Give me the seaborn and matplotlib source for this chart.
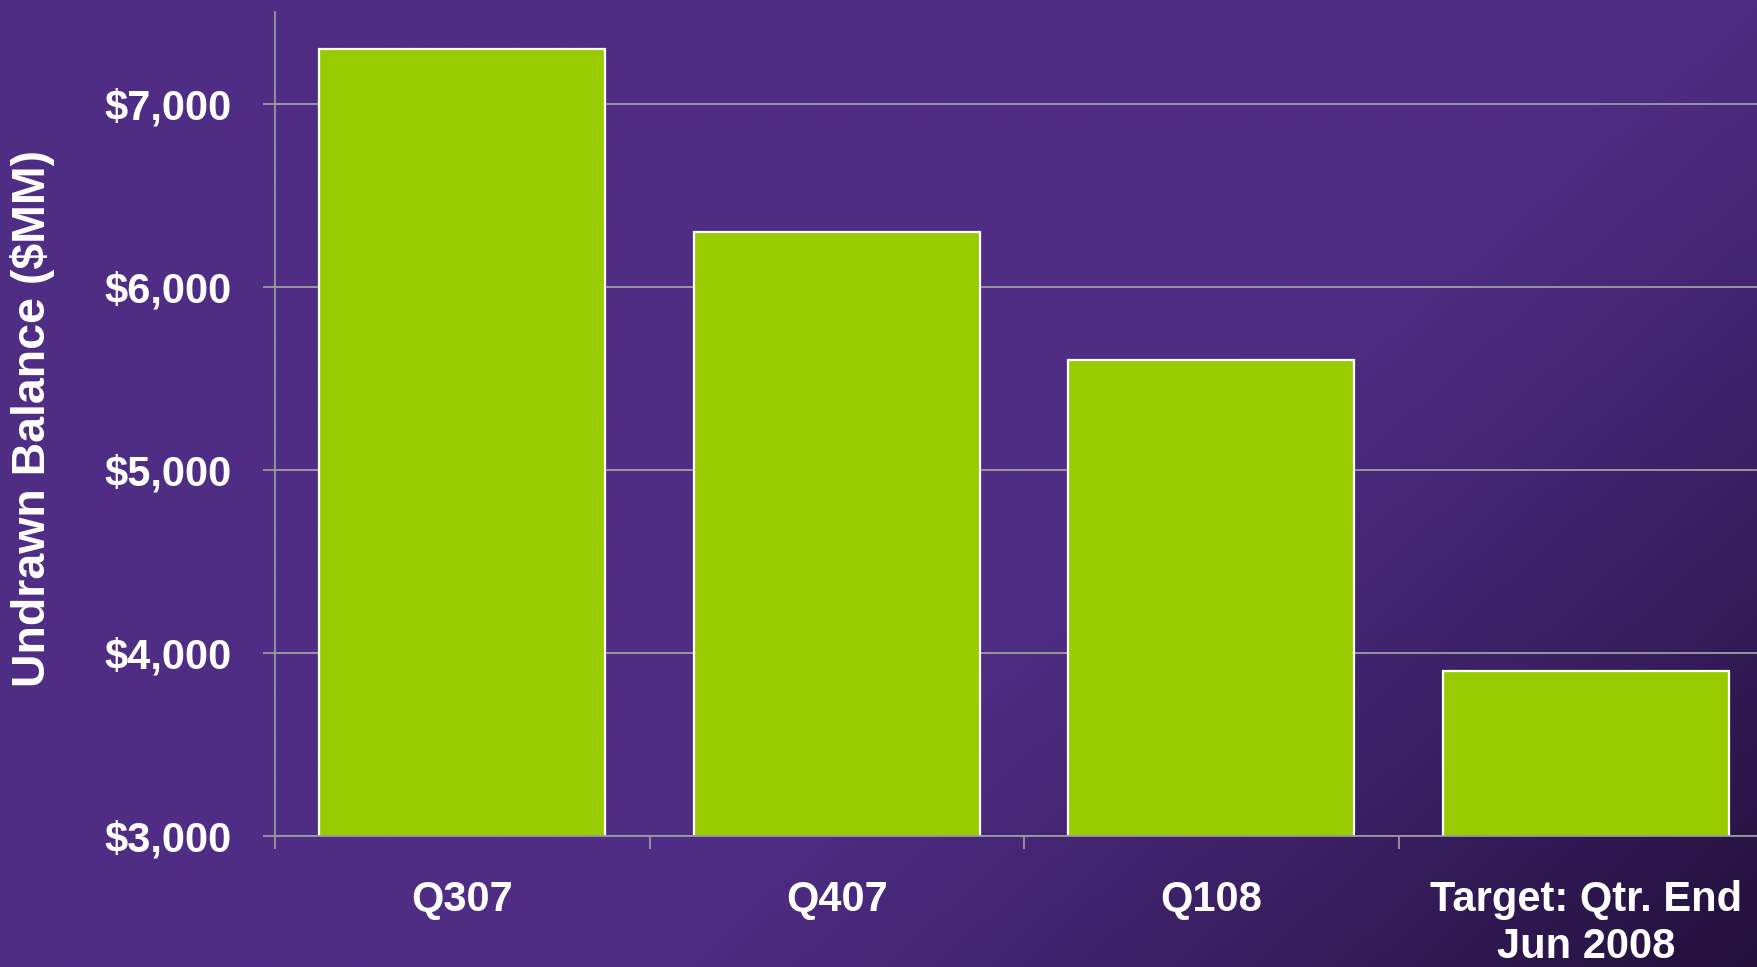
import numpy as np
import matplotlib
matplotlib.use("Agg")
import matplotlib.pyplot as plt
import seaborn as sns
from matplotlib.colors import to_rgb

categories = ["Q307", "Q407", "Q108", "Target: Qtr. End\nJun 2008"]
values = [7300, 6300, 5600, 3900]
ytick_vals = [3000, 4000, 5000, 6000, 7000]
ytick_labels = ["$3,000", "$4,000", "$5,000", "$6,000", "$7,000"]

sns.set_style("white")
plt.rcParams['font.family'] = ['Liberation Sans', 'DejaVu Sans']
plt.rcParams['font.weight'] = 'bold'

W, H = 1758, 967
fig = plt.figure(figsize=(W / 100, H / 100), dpi=100)

# background gradient
bg = fig.add_axes([0, 0, 1, 1], zorder=-10)
xs = np.linspace(0, 1, 400)
ys = np.linspace(0, 1, 220)
X, Y = np.meshgrid(xs, ys)
s = 0.62 * X + 0.38 * Y
f = np.clip((s - 0.58) / 0.42, 0, 1) ** 1.2
base = np.array(to_rgb("#4f2d85"))
dark = np.array(to_rgb("#22103b"))
img = base[None, None, :] * (1 - f[..., None]) + dark[None, None, :] * f[..., None]
bg.imshow(img, aspect='auto', extent=[0, 1, 0, 1], origin='upper', interpolation='bilinear')
bg.set_axis_off()

left, right, top, bottom = 275, 1773, 12, 836
ax = fig.add_axes([left / W, (H - bottom) / H, (right - left) / W, (bottom - top) / H])
ax.set_facecolor('none')

sns.barplot(x=categories, y=values, color='#99cc00', saturation=1, edgecolor='white',
            linewidth=1.6, width=0.765, ax=ax)

ax.set_xlim(-0.5, 3.5)
ax.set_ylim(3000, 7500)
ax.set_yticks(ytick_vals)
ax.set_yticklabels(ytick_labels)
ax.set_axisbelow(True)
ax.yaxis.grid(True, color='#a8a8a8', linewidth=1.2)
ax.xaxis.grid(False)

for sp in ['top', 'right']:
    ax.spines[sp].set_visible(False)
for sp in ['left', 'bottom']:
    ax.spines[sp].set_color('#9a9a9a')
    ax.spines[sp].set_linewidth(1.3)

ax.set_xticks(range(len(categories)))
ax.set_xticklabels(categories)
ax.set_xticks([-0.5, 0.5, 1.5, 2.5], minor=True)
ax.tick_params(axis='x', which='major', bottom=True, length=0, pad=32, labelsize=30,
               labelcolor='white')
ax.tick_params(axis='x', which='minor', bottom=True, length=9, width=1.3, color='#9a9a9a',
               direction='out')
ax.tick_params(axis='y', which='major', left=True, length=9, width=1.3, color='#9a9a9a',
               pad=22, labelsize=30, labelcolor='white')
for lab in ax.get_xticklabels() + ax.get_yticklabels():
    lab.set_fontweight('bold')

ax.set_xlabel('')
ax.set_ylabel('Undrawn Balance ($MM)', fontsize=33.5, fontweight='bold', color='white')
ax.yaxis.set_label_coords(-0.147, 0.507)

fig.savefig('out.png', dpi=100, facecolor=fig.get_facecolor())
